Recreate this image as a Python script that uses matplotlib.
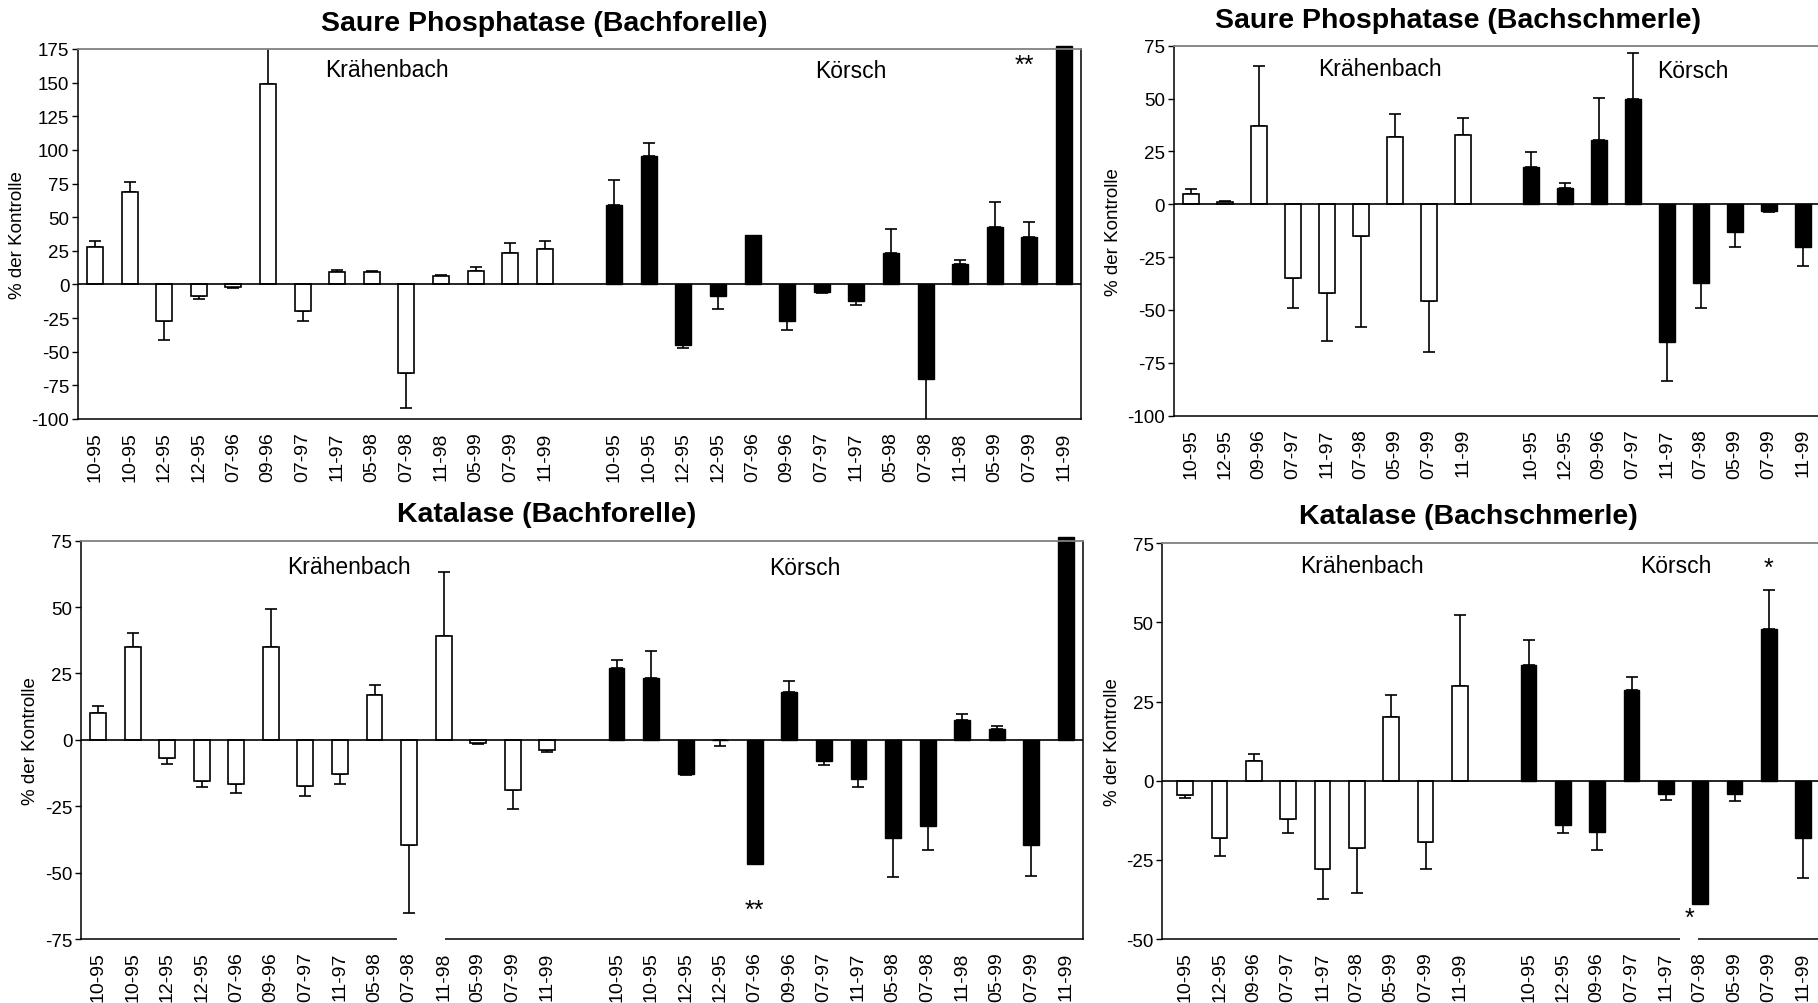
import numpy as np
import matplotlib.pyplot as plt
from matplotlib.patches import Rectangle

plt.rcParams['font.family'] = ['Liberation Sans', 'DejaVu Sans']
plt.rcParams['axes.unicode_minus'] = False

# Probenahmetermine
dates_forelle = ['10-95', '10-95', '12-95', '12-95', '07-96', '09-96', '07-97',
                 '11-97', '05-98', '07-98', '11-98', '05-99', '07-99', '11-99']
dates_schmerle = ['10-95', '12-95', '09-96', '07-97', '11-97', '07-98',
                  '05-99', '07-99', '11-99']

# Saure Phosphatase, Bachforelle (% der Kontrolle, Fehler = Betrag)
sp_forelle_kr = [27.7, 68.6, -27.3, -8.7, -2.0, 148.9, -19.8, 9.2, 9.2, -65.9, 5.9, 10.2, 23.3, 26.5]
sp_forelle_kr_err = [4.3, 7.4, 14.3, 2.0, 0.7, 28.0, 7.5, 1.9, 1.0, 26.0, 0.8, 2.4, 7.7, 5.5]
sp_forelle_ko = [58.7, 95.1, -45.3, -8.9, 36.9, -27.5, -5.7, -12.4, 23.5, -70.1, 14.9, 42.4, 34.9, 177.0]
sp_forelle_ko_err = [18.6, 9.7, 1.8, 9.7, 0, 6.2, 1.0, 2.7, 17.4, 32.0, 2.9, 18.8, 11.4, 0]

# Katalase, Bachforelle
kat_forelle_kr = [10.0, 35.1, -6.7, -15.4, -16.6, 35.1, -17.2, -12.8, 16.7, -39.5, 39.1, -1.0, -18.8, -4.0]
kat_forelle_kr_err = [2.9, 5.1, 2.3, 2.5, 3.5, 14.1, 3.9, 3.8, 4.0, 25.7, 24.0, 0.6, 7.3, 0.6]
kat_forelle_ko = [27.0, 23.1, -12.9, -0.2, -46.8, 17.9, -7.9, -14.7, -37.0, -32.4, 7.5, 4.1, -39.5, 76.2]
kat_forelle_ko_err = [3.1, 10.4, 0.3, 2.3, 0, 4.1, 1.5, 3.1, 14.7, 9.0, 2.2, 1.0, 11.7, 0]

# Saure Phosphatase, Bachschmerle
sp_schmerle_kr = [5.0, 1.1, 37.0, -34.8, -41.8, -15.1, 31.8, -45.9, 32.6]
sp_schmerle_kr_err = [2.1, 0.5, 28.3, 14.5, 23.0, 42.9, 11.1, 23.9, 8.2]
sp_schmerle_ko = [17.7, 7.9, 30.3, 50.0, -65.1, -37.2, -13.1, -3.2, -20.2]
sp_schmerle_ko_err = [6.9, 2.2, 20.1, 21.7, 18.6, 12.1, 7.1, 0.4, 9.0]

# Katalase, Bachschmerle
kat_schmerle_kr = [-4.5, -18.2, 6.1, -12.1, -27.9, -21.1, 20.2, -19.5, 30.0]
kat_schmerle_kr_err = [1.1, 5.5, 2.5, 4.5, 9.3, 14.4, 7.0, 8.4, 22.4]
kat_schmerle_ko = [36.6, -14.0, -16.3, 28.7, -4.2, -38.8, -4.2, 47.9, -18.2]
kat_schmerle_ko_err = [7.8, 2.6, 5.6, 4.2, 1.9, 0, 2.1, 12.4, 12.5]


def draw_panel(ax, dates, kr, kr_err, ko, ko_err, title, ylim, yticks,
               title_x, text_kr, text_ko, xleft=-0.5):
    n = len(dates)
    x_kr = np.arange(n)
    x_ko = n + 1 + np.arange(n)
    w = 0.46

    ax.bar(x_kr, kr, w, color='white', edgecolor='black', linewidth=1.2, clip_on=False, zorder=2)
    ax.bar(x_ko, ko, w, color='black', edgecolor='black', linewidth=1.0, clip_on=False, zorder=2)

    # einseitige Fehlerbalken, jeweils vom Nullpunkt weg
    for xs, vals, errs in ((x_kr, kr, kr_err), (x_ko, ko, ko_err)):
        vals = np.array(vals)
        errs = np.array(errs)
        m = errs > 0
        lower = np.where(vals < 0, errs, 0)[m]
        upper = np.where(vals >= 0, errs, 0)[m]
        ax.errorbar(xs[m], vals[m], yerr=[lower, upper], fmt='none',
                    ecolor='black', elinewidth=1.2, capsize=4, capthick=1.2, zorder=1)

    ax.axhline(0, color='black', linewidth=1.2, zorder=3)
    ax.set_xlim(xleft, 2 * n + 0.5)
    ax.set_ylim(*ylim)
    ax.set_yticks(yticks)
    ax.set_xticks(np.concatenate([x_kr, x_ko]))
    ax.set_xticklabels(dates + dates, rotation=90, fontsize=14)
    ax.tick_params(axis='x', length=0, pad=9)
    ax.tick_params(axis='y', direction='out', length=4, width=1, labelsize=13.5, pad=2)
    ax.set_ylabel('% der Kontrolle', fontsize=13.5, labelpad=4)

    for side in ('left', 'right', 'bottom'):
        ax.spines[side].set_color('black')
        ax.spines[side].set_linewidth(1.1)
    ax.spines['top'].set_color('#808080')
    ax.spines['top'].set_linewidth(1.3)

    ax.text(title_x, 1.035, title, transform=ax.transAxes, ha='center', va='bottom',
            fontsize=20.5, fontweight='bold')
    ax.text(text_kr[0], text_kr[1], 'Krähenbach', ha='center', va='center', fontsize=16.5)
    ax.text(text_ko[0], text_ko[1], 'Körsch', ha='center', va='center', fontsize=16.5)
    return x_kr, x_ko


fig = plt.figure(figsize=(18.18, 10.04), dpi=100)

ax1 = fig.add_axes([0.0427, 0.5817, 0.5521, 0.3685])
draw_panel(ax1, dates_forelle, sp_forelle_kr, sp_forelle_kr_err, sp_forelle_ko, sp_forelle_ko_err,
           'Saure Phosphatase (Bachforelle)', (-100, 175), np.arange(-100, 176, 25),
           0.465, (8.45, 160), (21.85, 159))
ax1.text(26.85, 163, '**', ha='center', va='center', fontsize=18)

ax2 = fig.add_axes([0.0444, 0.0637, 0.5514, 0.3968])
x_kr2, x_ko2 = draw_panel(ax2, dates_forelle, kat_forelle_kr, kat_forelle_kr_err, kat_forelle_ko,
                          kat_forelle_ko_err, 'Katalase (Bachforelle)', (-75, 75),
                          np.arange(-75, 76, 25), 0.465, (7.25, 65.3), (20.45, 65))
ax2.text(x_ko2[4], -64.0, '**', ha='center', va='center', fontsize=18)
# weisses Textfeld unter 07-98 unterbricht die Achsenlinie
ax2.add_patch(Rectangle((x_kr2[9] - 0.34, -77), 1.39, 4, transform=ax2.transData,
                        facecolor='white', edgecolor='none', clip_on=False, zorder=5))

ax3 = fig.add_axes([0.6455, 0.585, 0.3557, 0.3685])
draw_panel(ax3, dates_schmerle, sp_schmerle_kr, sp_schmerle_kr_err, sp_schmerle_ko, sp_schmerle_ko_err,
           'Saure Phosphatase (Bachschmerle)', (-100, 75), np.arange(-100, 76, 25),
           0.44, (5.54, 64.2), (14.74, 63.4), xleft=-0.52)

ax4 = fig.add_axes([0.6391, 0.0637, 0.3622, 0.3942])
x_kr4, x_ko4 = draw_panel(ax4, dates_schmerle, kat_schmerle_kr, kat_schmerle_kr_err, kat_schmerle_ko,
                          kat_schmerle_ko_err, 'Katalase (Bachschmerle)', (-50, 75),
                          np.arange(-50, 76, 25), 0.465, (5.16, 67.9), (14.29, 67.9), xleft=-0.68)
ax4.text(x_ko4[5] - 0.3, -43.2, '*', ha='center', va='center', fontsize=18)
ax4.text(x_ko4[7], 67.3, '*', ha='center', va='center', fontsize=18)
ax4.add_patch(Rectangle((x_ko4[5] - 0.6, -51.5), 0.55, 3, transform=ax4.transData,
                        facecolor='white', edgecolor='none', clip_on=False, zorder=5))

fig.savefig('out.png', dpi=100)
